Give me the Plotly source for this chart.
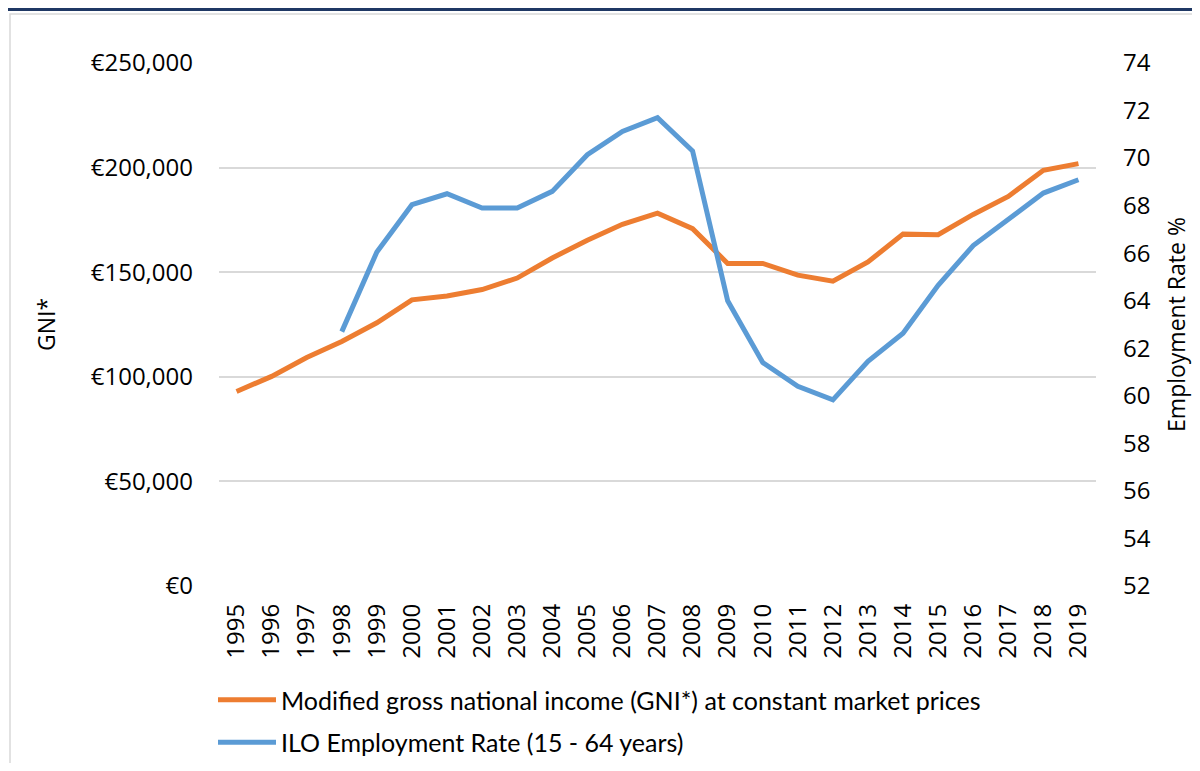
import plotly.graph_objects as go

years = [str(y) for y in range(1995, 2020)]
gni = [93000, 100200, 109200, 116900, 125800, 136800, 138600, 141700, 147200, 156800,
       165300, 172900, 178200, 170800, 154200, 154200, 148600, 145700, 154900, 168200,
       167900, 177600, 186200, 198700, 201900]
emp = [None, None, None, 62.7, 66.05, 68.04, 68.5, 67.9, 67.9, 68.6,
       70.14, 71.12, 71.7, 70.3, 64.0, 61.4, 60.4, 59.83, 61.45, 62.63,
       64.65, 66.32, 67.43, 68.53, 69.09]

gni_name = "Modified gross national income (GNI*) at constant market prices"
emp_name = "ILO Employment Rate (15 - 64 years)"

OFF = 8  # browser default body margin
W, H = 1200 - 2 * OFF, 771 - 2 * OFF
L, R, T, B = 219 - OFF, 1096 - OFF, 63 - OFF, 586 - OFF
pw, ph = R - L, B - T

def px(x):
    return (x - OFF - L) / pw

def py(y):
    return (B - (y - OFF)) / ph

tick_font = dict(family="Open Sans", size=24, color="#000000")
title_font = dict(family="Open Sans", size=23, color="#000000")

fig = go.Figure()
fig.add_trace(go.Scatter(x=years, y=gni, name=gni_name, mode="lines", legendgroup="a",
                         line=dict(color="#ED7D31", width=5), yaxis="y"))
fig.add_trace(go.Scatter(x=years, y=emp, name=emp_name, mode="lines", legendgroup="b",
                         line=dict(color="#5B9BD5", width=5), yaxis="y2",
                         connectgaps=False))

fig.update_layout(
    width=W, height=H,
    margin=dict(l=L, r=W - R, t=T, b=H - B, autoexpand=False),
    paper_bgcolor="white", plot_bgcolor="white",
    showlegend=True,
    legend=dict(x=px(213), y=py(677), xanchor="left", yanchor="top",
                orientation="v", font=dict(family="Lato", size=25, color="#000000"),
                itemwidth=58, tracegroupgap=7, bgcolor="rgba(0,0,0,0)"),
    xaxis=dict(type="category", range=[-0.5, 24.5], tickangle=-90, automargin=False,
               tickfont=tick_font, showgrid=False, zeroline=False,
               showline=False, ticks="", ticklabelstandoff=12),
    yaxis=dict(range=[0, 250000], dtick=50000, tickprefix="€", tickformat=",", automargin=False,
               tickfont=tick_font, showgrid=True, gridcolor="#D9D9D9", gridwidth=1.5,
               zeroline=False, showline=False, ticks="", ticklabelstandoff=25,
               title=dict(text="GNI*", font=title_font, standoff=28)),
    yaxis2=dict(range=[52, 74], dtick=2, overlaying="y", side="right", automargin=False,
                tickfont=tick_font, showgrid=False, zeroline=False, showline=False,
                ticks="", ticklabelstandoff=26,
                title=dict(text="Employment Rate %", font=title_font, standoff=23)),
    shapes=[
        dict(type="rect", xref="paper", yref="paper",
             x0=px(10), x1=px(1215), y0=py(14), y1=py(790),
             line=dict(color="#D9D9D9", width=1.5), fillcolor="rgba(0,0,0,0)", layer="below"),
        dict(type="line", xref="paper", yref="paper",
             x0=px(0), x1=px(1210), y0=py(9.5), y1=py(9.5),
             line=dict(color="#1F3864", width=3)),
    ],
)

fig.write_html("out.html")
